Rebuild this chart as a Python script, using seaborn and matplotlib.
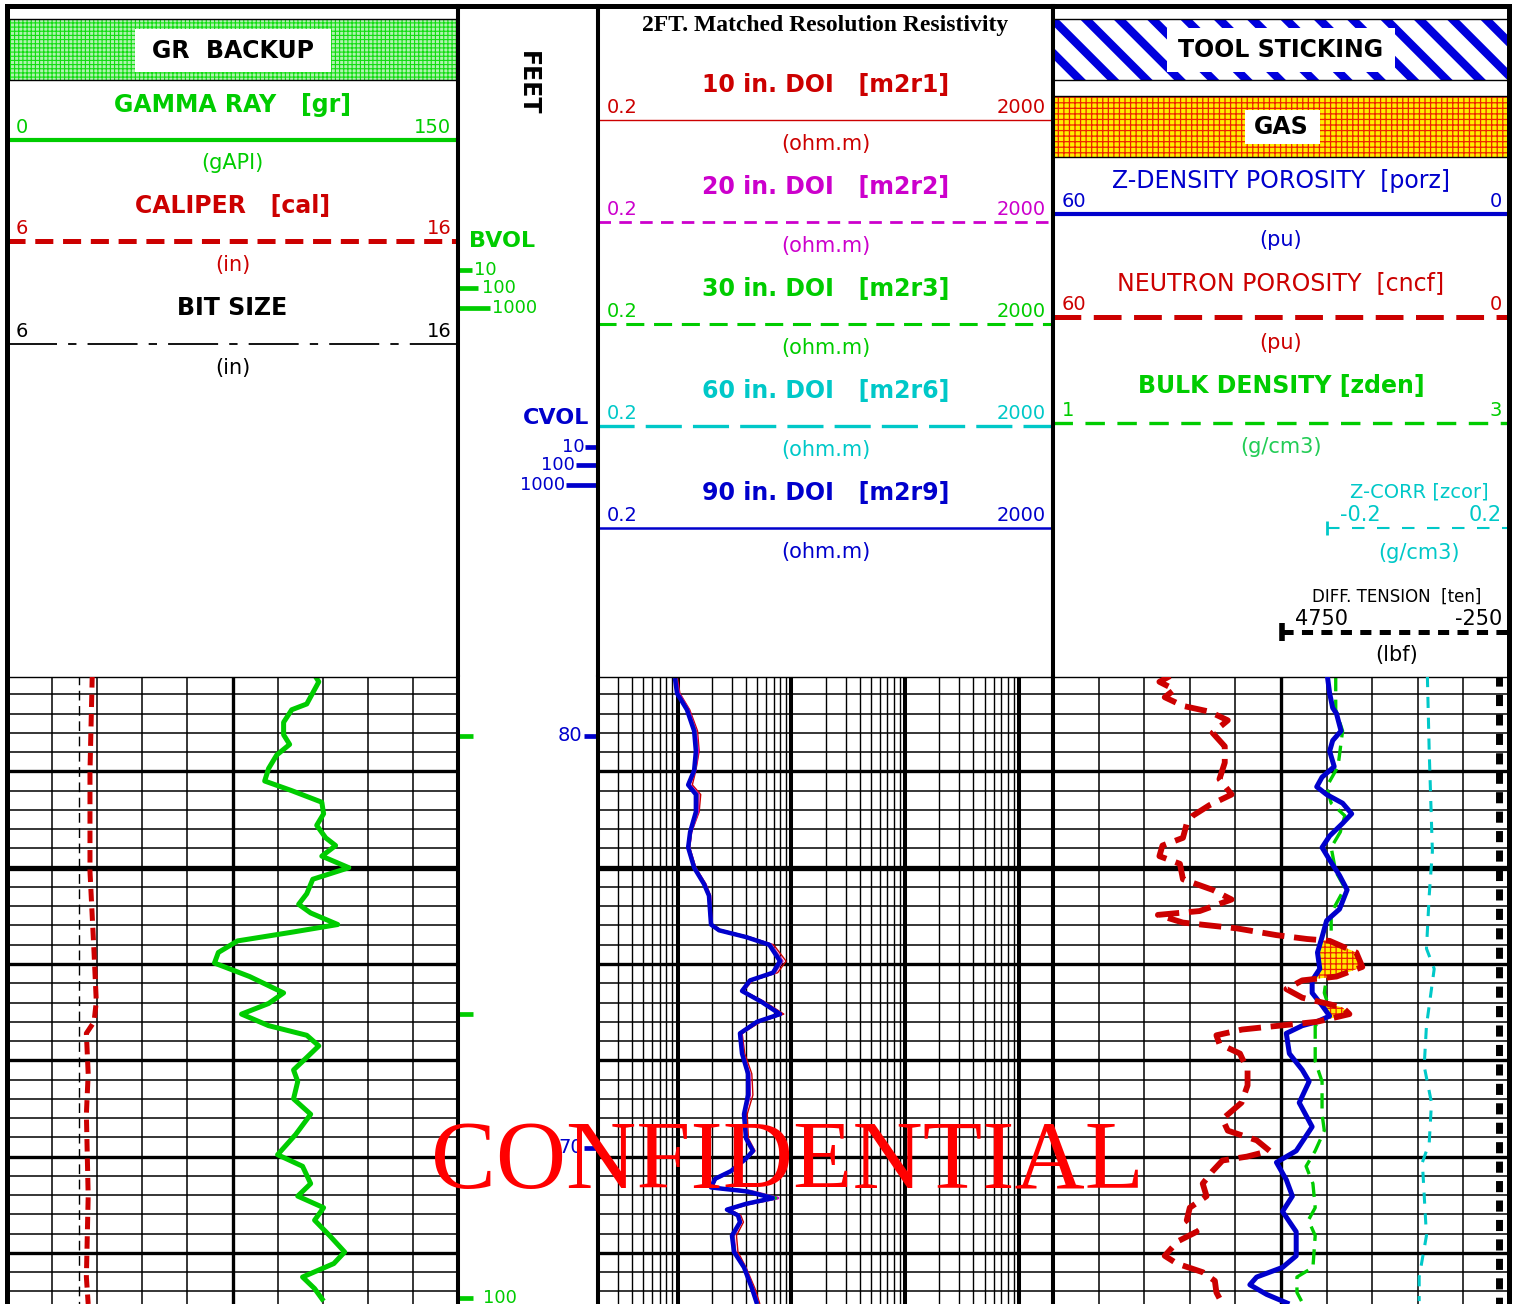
import numpy as np
import matplotlib.pyplot as plt
from matplotlib.patches import Rectangle
from matplotlib.ticker import FixedLocator, NullLocator
import seaborn as sns

# ---------------- values (depth in feet) ----------------
TOP, BOTTOM = 1030.2, 1095.3

gr_depth = [1030.0, 1030.7, 1031.5, 1033.0, 1033.6, 1034.9, 1036.2, 1037.2, 1038.3, 1039.7,
            1041.0, 1042.0, 1043.2, 1044.4, 1045.6, 1046.9, 1047.7, 1048.8, 1050.0, 1051.2,
            1052.7, 1053.8, 1054.7, 1055.9, 1056.7, 1057.6, 1058.8, 1059.9, 1061.3, 1063.0,
            1064.1, 1065.2, 1066.4, 1067.4, 1068.5, 1069.7, 1071.0, 1072.2, 1074.0, 1075.6,
            1077.7, 1079.8, 1081.0, 1082.8, 1084.1, 1085.3, 1086.6, 1088.2, 1089.9, 1091.1,
            1092.5, 1093.7, 1095.0]
gr = [102.3, 103.7, 102.3, 99.7, 94.7, 92.0, 92.0, 94.0, 89.7, 87.0,
      85.7, 94.7, 104.7, 105.3, 103.0, 106.0, 109.3, 104.7, 113.7, 101.7,
      99.7, 97.0, 101.0, 110.0, 94.7, 76.7, 70.3, 69.0, 80.7, 92.0,
      87.0, 78.0, 87.0, 99.7, 103.7, 99.7, 95.3, 96.7, 95.3, 101.0,
      96.0, 90.0, 98.3, 101.0, 96.7, 105.3, 102.3, 107.3, 112.3, 108.7,
      98.3, 102.3, 105.3]

cal_depth = [1030.0, 1040.0, 1050.4, 1058.8, 1063.9, 1066.0, 1067.2, 1071.4, 1075.6, 1084.1, 1092.5, 1095.3]
cal = [7.89, 7.84, 7.84, 7.93, 7.98, 7.93, 7.76, 7.80, 7.76, 7.80, 7.76, 7.80]

bs_depth = [1030.0, 1095.3]
bs = [7.6, 7.6]

res_depth = [1030.3, 1031.9, 1033.6, 1035.8, 1037.9, 1039.9, 1041.4, 1042.4, 1044.2, 1046.3,
             1047.9, 1050.0, 1051.7, 1052.9, 1055.9, 1056.5, 1057.2, 1058.0, 1059.7, 1060.9,
             1061.7, 1062.8, 1063.9, 1065.2, 1066.0, 1067.2, 1069.3, 1071.4, 1073.6, 1075.6,
             1078.1, 1079.4, 1080.2, 1081.5, 1082.3, 1083.2, 1083.6, 1084.3, 1084.9, 1085.5,
             1086.1, 1086.8, 1088.2, 1089.9, 1091.5, 1093.7, 1095.3]
m2r1 = [1.00, 1.05, 1.28, 1.50, 1.55, 1.45, 1.35, 1.60, 1.55, 1.33,
        1.28, 1.45, 1.78, 1.95, 2.00, 2.40, 4.30, 7.00, 9.00, 7.60,
        4.60, 3.80, 5.80, 8.60, 5.40, 3.70, 3.90, 4.50, 4.60, 4.10,
        4.20, 4.80, 4.10, 3.00, 2.20, 2.00, 4.30, 6.60, 3.80, 2.90,
        3.60, 3.80, 3.30, 3.40, 4.00, 4.80, 5.30]
m2r2 = [0.97, 1.02, 1.24, 1.44, 1.50, 1.42, 1.27, 1.52, 1.50, 1.31,
        1.26, 1.42, 1.74, 1.92, 1.98, 2.35, 4.10, 6.60, 8.30, 7.10,
        4.40, 3.72, 5.55, 8.10, 5.10, 3.60, 3.75, 4.25, 4.30, 3.90,
        4.05, 4.70, 4.05, 2.98, 2.16, 1.99, 4.40, 7.60, 4.20, 2.80,
        3.45, 3.60, 3.10, 3.20, 3.90, 4.60, 5.10]
m2r3 = [0.96, 1.00, 1.22, 1.42, 1.47, 1.41, 1.25, 1.48, 1.47, 1.30,
        1.25, 1.41, 1.72, 1.90, 1.97, 2.33, 4.05, 6.50, 8.10, 7.00,
        4.37, 3.70, 5.48, 8.00, 5.05, 3.56, 3.70, 4.20, 4.22, 3.86,
        4.02, 4.65, 4.02, 2.96, 2.15, 1.98, 4.20, 7.30, 4.10, 2.75,
        3.42, 3.56, 3.05, 3.16, 3.86, 4.55, 5.05]
m2r6 = [0.95, 0.99, 1.21, 1.41, 1.46, 1.40, 1.24, 1.46, 1.46, 1.29,
        1.24, 1.40, 1.71, 1.89, 1.97, 2.32, 4.00, 6.45, 8.00, 6.95,
        4.35, 3.69, 5.45, 7.98, 5.00, 3.54, 3.69, 4.18, 4.18, 3.85,
        4.00, 4.62, 4.00, 2.95, 2.14, 1.97, 4.10, 7.00, 4.00, 2.73,
        3.40, 3.54, 3.02, 3.15, 3.85, 4.53, 5.00]
m2r9 = [0.95, 0.99, 1.21, 1.40, 1.45, 1.40, 1.24, 1.45, 1.45, 1.29,
        1.24, 1.40, 1.71, 1.89, 1.97, 2.32, 4.00, 6.40, 7.96, 6.90,
        4.34, 3.69, 5.42, 7.96, 5.00, 3.54, 3.69, 4.17, 4.17, 3.84,
        4.00, 4.60, 4.00, 2.95, 2.14, 1.97, 4.00, 6.90, 4.00, 2.72,
        3.40, 3.54, 3.01, 3.14, 3.84, 4.52, 5.00]

porz_depth = [1030.1, 1031.9, 1033.4, 1034.0, 1035.8, 1036.8, 1037.9, 1039.5, 1040.6, 1041.6,
              1042.4, 1043.3, 1044.4, 1045.4, 1046.7, 1047.9, 1049.2, 1050.8, 1052.3, 1054.3,
              1055.5, 1057.2, 1058.8, 1060.5, 1061.7, 1063.0, 1064.3, 1065.4, 1066.0, 1066.4,
              1067.2, 1069.3, 1071.0, 1072.2, 1074.4, 1076.9, 1079.4, 1080.6, 1082.4, 1084.1,
              1085.7, 1087.8, 1090.3, 1091.5, 1092.5, 1093.3, 1094.3, 1095.3]
porz = [23.9, 23.6, 23.2, 22.7, 22.1, 23.2, 23.6, 23.0, 24.6, 25.3,
        24.0, 21.9, 20.7, 21.9, 23.6, 24.6, 23.6, 22.3, 21.3, 22.3,
        24.0, 24.6, 25.2, 24.9, 25.9, 25.9, 24.6, 23.6, 25.3, 27.2,
        29.3, 28.9, 27.2, 26.3, 27.6, 25.9, 28.0, 30.6, 29.3, 28.5,
        29.8, 28.0, 28.0, 29.8, 33.2, 34.1, 31.9, 28.9]

cncf_depth = [1030.1, 1030.7, 1031.5, 1032.3, 1033.2, 1033.8, 1034.7, 1036.0, 1037.4, 1039.1,
              1040.8, 1042.4, 1043.5, 1044.6, 1045.4, 1046.9, 1047.7, 1048.8, 1049.6, 1051.2,
              1052.3, 1053.3, 1054.5, 1054.9, 1055.7, 1056.3, 1057.0, 1057.4, 1057.6, 1058.8,
              1060.3, 1061.3, 1061.7, 1062.6, 1063.5, 1064.5, 1065.2, 1066.0, 1066.4, 1066.8,
              1067.4, 1068.3, 1069.3, 1071.0, 1072.6, 1074.4, 1076.1, 1077.3, 1078.3, 1079.4,
              1080.0, 1080.4, 1081.5, 1082.8, 1084.1, 1085.3, 1086.6, 1087.8, 1088.8, 1090.3,
              1091.1, 1092.0, 1092.9, 1094.1, 1095.3]
cncf = [44.6, 46.0, 44.0, 45.3, 42.9, 39.4, 37.0, 39.0, 37.4, 37.4,
        38.1, 36.5, 39.4, 41.6, 42.4, 42.9, 45.6, 46.0, 43.3, 42.9,
        39.0, 36.5, 40.7, 46.2, 42.9, 35.8, 30.6, 26.6, 23.6, 20.1,
        19.3, 22.7, 27.2, 29.3, 27.2, 21.9, 21.0, 25.3, 30.2, 35.1,
        38.5, 38.1, 35.4, 34.4, 34.4, 35.2, 37.7, 37.0, 33.2, 31.5,
        34.5, 37.7, 39.0, 40.3, 39.8, 42.0, 42.4, 41.1, 43.6, 45.3,
        43.7, 40.3, 38.7, 38.5, 37.7]

zden_depth = [1030.1, 1033.6, 1035.8, 1039.5, 1041.6, 1043.3, 1044.6, 1046.3, 1047.9, 1050.4,
              1052.1, 1054.7, 1056.7, 1058.8, 1061.3, 1063.0, 1065.2, 1066.4, 1067.2, 1070.1,
              1072.2, 1074.0, 1075.6, 1077.3, 1079.4, 1081.0, 1082.8, 1085.3, 1086.6, 1088.2,
              1091.5, 1092.5, 1094.1, 1095.0]
zden = [2.24, 2.24, 2.27, 2.25, 2.20, 2.22, 2.28, 2.26, 2.22, 2.24,
        2.28, 2.22, 2.22, 2.20, 2.20, 2.19, 2.22, 2.15, 2.15, 2.15,
        2.18, 2.18, 2.18, 2.19, 2.15, 2.11, 2.14, 2.15, 2.12, 2.15,
        2.14, 2.07, 2.07, 2.09]

zcor_depth = [1030.1, 1037.9, 1048.3, 1052.9, 1058.4, 1060.5, 1066.4, 1070.6, 1074.4, 1078.6,
              1080.6, 1088.2, 1092.5, 1095.0]
zcor = [0.021, 0.025, 0.032, 0.025, 0.019, 0.036, 0.019, 0.014, 0.030, 0.025,
        0.010, 0.019, 0.003, 0.003]

ten_depth = [1030.0, 1050.0, 1070.0, 1095.3]
ten = [-30, -30, -30, -30]

bvol_depth = [1036.3, 1065.2, 1094.7]
bvol_text = ['', '', '100']
cvol_depth = [1036.3, 1079.1]
cvol_text = ['80', '70']

GREEN = '#00cc00'
RED = '#cc0000'
MAGENTA = '#cc00cc'
CYAN = '#00c8c8'
BLUE = '#0000cc'

sns.set_theme(style='white')
plt.rcParams['font.family'] = ['DejaVu Sans']
plt.rcParams['lines.scale_dashes'] = False
plt.rcParams['lines.solid_capstyle'] = 'butt'
plt.rcParams['lines.dash_capstyle'] = 'butt'
plt.rcParams['axes.unicode_minus'] = False

W, H = 1515, 1304
HEAD_TOP, DATA_TOP = 6, 677
fig = plt.figure(figsize=(W / 100, H / 100), dpi=100)


def box(x0, x1, y0, y1):
    return [x0 / W, 1 - y1 / H, (x1 - x0) / W, (y1 - y0) / H]


def header(x0, x1, left=2.9, right=2.9):
    ax = fig.add_axes(box(x0, x1, HEAD_TOP, DATA_TOP))
    ax.set_xlim(0, 1)
    ax.set_ylim(DATA_TOP, HEAD_TOP)
    ax.set_xticks([])
    ax.set_yticks([])
    for s in ax.spines.values():
        s.set_color('black')
    ax.spines['bottom'].set_visible(False)
    ax.spines['top'].set_linewidth(3.6)
    ax.spines['left'].set_linewidth(left)
    ax.spines['right'].set_linewidth(right)
    return ax


def track(x0, x1, left=2.9, right=2.9, top=1.0):
    ax = fig.add_axes(box(x0, x1, DATA_TOP, H))
    for s in ax.spines.values():
        s.set_color('black')
    ax.spines['bottom'].set_visible(False)
    ax.spines['left'].set_linewidth(left)
    ax.spines['right'].set_linewidth(right)
    if top:
        ax.spines['top'].set_linewidth(top)
    else:
        ax.spines['top'].set_visible(False)
    return ax


def depth_grid(ax):
    ax.yaxis.set_major_locator(FixedLocator(np.arange(1040, 1095, 10)))
    ax.yaxis.set_minor_locator(FixedLocator(np.arange(1032, 1096, 2)))
    ax.grid(True, axis='y', which='minor', color='black', lw=1.1)
    ax.grid(True, axis='y', which='major', color='black', lw=2.4)
    ax.axhline(1050, color='black', lw=3.8)


def finish(ax):
    ax.set(xlabel='', ylabel='')
    ax.tick_params(which='both', length=0, labelbottom=False, labelleft=False,
                   labeltop=False, labelright=False)


def twin(ax, lo, hi):
    t = ax.twiny()
    t.set_xlim(lo, hi)
    t.set_axis_off()
    return t


def curve(ax, x, y, color, lw, dashes=None, z=2):
    sns.lineplot(x=x, y=y, ax=ax, orient='y', estimator=None, color=color,
                 linewidth=lw, zorder=z)
    if dashes:
        ax.lines[-1].set_dashes(dashes)
    ax.set(xlabel='', ylabel='')


def text(ax, x, y, s, color='black', size=17, bold=False, ha='center', va='center', **kw):
    ax.text(x, y, s, color=color, fontsize=size, fontweight='bold' if bold else 'normal',
            ha=ha, va=va, **kw)


def key(ax, y, lo, hi, color, lw, dashes=None, x0=0.0, x1=1.0, lo_x=None, size=14):
    ln, = ax.plot([x0, x1], [y, y], color=color, lw=lw)
    if dashes:
        ln.set_dashes(dashes)
    ax.text(x0 + 0.02 if lo_x is None else lo_x, y - 3, lo, color=color, fontsize=size,
            ha='left', va='bottom')
    ax.text(x1 - 0.015, y - 3, hi, color=color, fontsize=size, ha='right', va='bottom')


def pattern(ax, x0, x1, y0, y1, face, hatch, hcolor, hlw):
    with plt.rc_context({'hatch.linewidth': hlw}):
        p = Rectangle((x0, y0), x1 - x0, y1 - y0, facecolor=face, edgecolor=hcolor,
                      hatch=hatch, linewidth=0, zorder=1)
        if hasattr(p, 'set_hatch_linewidth'):
            p.set_hatch_linewidth(hlw)
        ax.add_patch(p)


def white_box(ax, x0, x1, y0, y1):
    ax.add_patch(Rectangle((x0, y0), x1 - x0, y1 - y0, facecolor='white',
                           edgecolor='none', zorder=3))


X1 = (7, 458)
XD = (458, 598)
X2 = (598, 1053)
X3 = (1053, 1509)

# ---------------- headers ----------------
h1 = header(*X1, left=3.6)
pattern(h1, 0, 1, 19, 80, '#b0f2b0', '++++', '#11dd11', 0.8)
white_box(h1, 0.284, 0.718, 29, 72)
text(h1, 0.5, 51, 'GR  BACKUP', bold=True, zorder=4)
h1.axhline(19, color='black', lw=1)
h1.axhline(80, color='black', lw=1)
text(h1, 0.5, 105, 'GAMMA RAY   [gr]', GREEN, bold=True)
key(h1, 140, '0', '150', GREEN, 3.0)
text(h1, 0.5, 163, '(gAPI)', GREEN, 15)
text(h1, 0.5, 206, 'CALIPER   [cal]', RED, bold=True)
key(h1, 241, '6', '16', RED, 3.6, (13, 7))
text(h1, 0.5, 265, '(in)', RED, 15)
text(h1, 0.5, 308, 'BIT SIZE', bold=True)
key(h1, 344, '6', '16', 'black', 1.3, (36, 8, 6, 8))
text(h1, 0.5, 368, '(in)', 'black', 15)

hd = header(*XD)
text(hd, 0.5, 83, 'FEET', bold=True, rotation=-90)
text(hd, 0.08, 241, 'BVOL', GREEN, 16, bold=True, ha='left')
for y, xe, lab, lx in [(270, 0.10, '10', 0.115), (288, 0.145, '100', 0.17), (308, 0.23, '1000', 0.245)]:
    hd.plot([0, xe], [y, y], color=GREEN, lw=3.4)
    text(hd, lx, y, lab, GREEN, 13, ha='left')
text(hd, 0.935, 418, 'CVOL', BLUE, 16, bold=True, ha='right')
for y, xs, lab in [(447, 0.91, '10'), (465, 0.84, '100'), (485, 0.77, '1000')]:
    hd.plot([xs, 1], [y, y], color=BLUE, lw=3.4)
    text(hd, xs - 0.005, y, lab, BLUE, 13, ha='right')

h2 = header(*X2)
text(h2, 0.5, 25, '2FT. Matched Resolution Resistivity', size=17, bold=True,
     family=['Liberation Serif', 'DejaVu Serif'])
res_keys = [('10 in. DOI   [m2r1]', RED, 85, 1.0, None),
            ('20 in. DOI   [m2r2]', MAGENTA, 187, 2.0, (9, 6)),
            ('30 in. DOI   [m2r3]', GREEN, 289, 2.2, (13, 7)),
            ('60 in. DOI   [m2r6]', CYAN, 391, 2.4, (26, 8)),
            ('90 in. DOI   [m2r9]', BLUE, 493, 1.8, None)]
for title, color, ty, lw, dashes in res_keys:
    text(h2, 0.5, ty, title, color, bold=True)
    key(h2, ty + 35, '0.2', '2000', color, lw, dashes)
    text(h2, 0.5, ty + 59, '(ohm.m)', color, 15)

h3 = header(*X3, right=3.6)
pattern(h3, 0, 1, 19, 80, 'white', '\\', '#0000dd', 6.0)
white_box(h3, 0.25, 0.75, 28, 72)
text(h3, 0.5, 50, 'TOOL STICKING', bold=True, zorder=4)
h3.axhline(19, color='black', lw=1)
h3.axhline(80, color='black', lw=1)
pattern(h3, 0, 1, 96, 157, '#ffee00', '+++', '#ee2200', 0.9)
white_box(h3, 0.42, 0.585, 110, 144)
text(h3, 0.5, 127, 'GAS', bold=True, zorder=4)
h3.axhline(96, color='black', lw=1)
h3.axhline(157, color='black', lw=1)
text(h3, 0.5, 181, 'Z-DENSITY POROSITY  [porz]', BLUE)
key(h3, 214, '60', '0', BLUE, 3.0)
text(h3, 0.5, 240, '(pu)', BLUE, 15)
text(h3, 0.5, 283, 'NEUTRON POROSITY  [cncf]', RED)
key(h3, 317, '60', '0', RED, 3.6, (20, 9))
text(h3, 0.5, 343, '(pu)', RED, 15)
text(h3, 0.5, 386, 'BULK DENSITY [zden]', GREEN, bold=True)
key(h3, 423, '1', '3', GREEN, 2.4, (14, 9))
text(h3, 0.5, 447, '(g/cm3)', '#22cc55', 15)
text(h3, 0.803, 492, 'Z-CORR [zcor]', CYAN, 14)
key(h3, 528, '-0.2', '0.2', CYAN, 1.5, (9, 9), x0=0.6, lo_x=0.63, size=15)
h3.plot([0.6, 0.6], [521, 535], color=CYAN, lw=2)
text(h3, 0.803, 553, '(g/cm3)', CYAN, 15)
text(h3, 0.753, 597, 'DIFF. TENSION  [ten]', 'black', 12)
key(h3, 632, '4750', '-250', 'black', 3.6, (8, 6), x0=0.503, lo_x=0.53, size=15)
h3.plot([0.503, 0.503], [623, 641], color='black', lw=4)
text(h3, 0.753, 655, '(lbf)', 'black', 15)

# ---------------- track 1: GR / caliper / bit size ----------------
t1 = track(*X1, left=3.6)
t1.set_xlim(0, 150)
t1.xaxis.set_major_locator(FixedLocator([75]))
t1.xaxis.set_minor_locator(FixedLocator(np.arange(15, 150, 15)))
t1.grid(True, axis='x', which='minor', color='black', lw=1.1)
t1.grid(True, axis='x', which='major', color='black', lw=2.4)
depth_grid(t1)
curve(t1, gr, gr_depth, GREEN, 3.6)
t1c = twin(t1, 6, 16)
curve(t1c, bs, bs_depth, 'black', 1.0, (7, 4))
curve(t1c, cal, cal_depth, RED, 3.6, (9, 5))

# ---------------- depth track ----------------
td = track(*XD, top=0)
td.set_xlim(0, 1)
td.hlines(bvol_depth, 0, 0.11, color=GREEN, lw=3.4)
for d, s in zip(bvol_depth, bvol_text):
    td.text(0.18, d, s, color=GREEN, fontsize=13, ha='left', va='center')
td.hlines(cvol_depth, 0.9, 1.0, color=BLUE, lw=3.4)
for d, s in zip(cvol_depth, cvol_text):
    td.text(0.89, d, s, color=BLUE, fontsize=14, ha='right', va='center')
td.yaxis.set_major_locator(NullLocator())

# ---------------- track 2: resistivity ----------------
t2 = track(*X2)
t2.set_xscale('log')
t2.set_xlim(0.2, 2000)
t2.xaxis.set_major_locator(FixedLocator([1, 10, 100, 1000]))
minor = [m * 10.0 ** k for k in range(-1, 3) for m in range(2, 10)]
t2.xaxis.set_minor_locator(FixedLocator([v for v in minor if 0.2 < v < 1000]))
t2.grid(True, axis='x', which='minor', color='black', lw=1.0)
t2.grid(True, axis='x', which='major', color='black', lw=2.9)
depth_grid(t2)
curve(t2, m2r1, res_depth, RED, 1.0)
curve(t2, m2r2, res_depth, MAGENTA, 2.2)
curve(t2, m2r3, res_depth, GREEN, 2.2)
curve(t2, m2r6, res_depth, CYAN, 2.2)
curve(t2, m2r9, res_depth, BLUE, 3.2)

# ---------------- track 3: porosity / density ----------------
t3 = track(*X3, right=3.6)
t3.set_xlim(1, 3)
t3.xaxis.set_major_locator(FixedLocator([2.0]))
t3.xaxis.set_minor_locator(FixedLocator(np.arange(1.2, 2.9, 0.2)))
t3.grid(True, axis='x', which='minor', color='black', lw=1.1)
t3.grid(True, axis='x', which='major', color='black', lw=2.4)
depth_grid(t3)
curve(t3, zden, zden_depth, GREEN, 2.4, (11, 6))

t3p = twin(t3, 60, 0)
porz_at = np.interp(cncf_depth, porz_depth, porz)
with plt.rc_context({'hatch.linewidth': 0.9}):
    gas = t3p.fill_betweenx(cncf_depth, cncf, porz_at, where=np.array(cncf) < porz_at,
                            interpolate=True, facecolor='#ffee00', edgecolor='#ee2200',
                            hatch='+++', linewidth=0, zorder=1)
    if hasattr(gas, 'set_hatch_linewidth'):
        gas.set_hatch_linewidth(0.9)
curve(t3p, porz, porz_depth, BLUE, 3.6)
curve(t3p, cncf, cncf_depth, RED, 4.2, (16, 7))

t3z = twin(t3, -0.8, 0.2)
curve(t3z, zcor, zcor_depth, CYAN, 2.2, (8, 7))
t3t = twin(t3, 9750, -250)
curve(t3t, ten, ten_depth, 'black', 5.0, (8, 6))

for ax in [t1, td, t2, t3]:
    ax.set_ylim(BOTTOM, TOP)
    finish(ax)

fig.text(788 / W, 1 - 1188 / H, 'CONFIDENTIAL', fontsize=70, color='#ff0000',
         family=['Liberation Serif', 'DejaVu Serif'], ha='center', va='baseline', zorder=10)

fig.savefig('out.png', dpi=100)
plt.close(fig)
